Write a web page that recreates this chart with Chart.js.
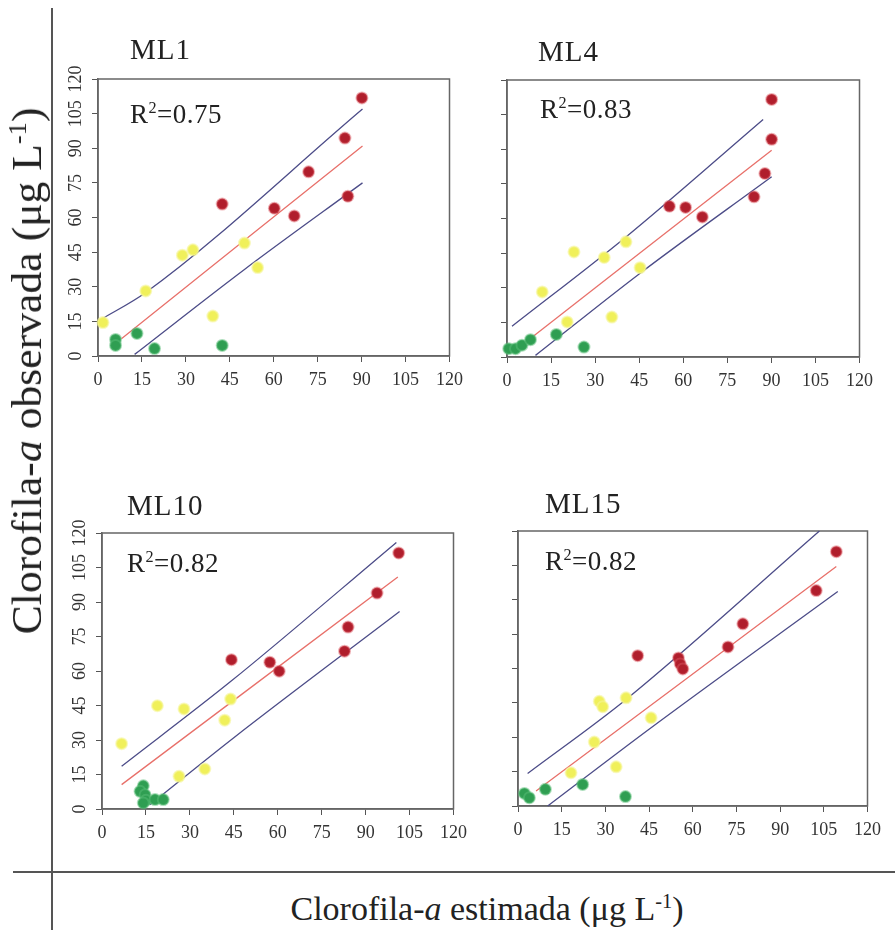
<!DOCTYPE html>
<html lang="es">
<head>
    <meta charset="UTF-8">
    <title>Clorofila-a observada vs estimada</title>
    <script src="https://cdn.jsdelivr.net/npm/chart.js"></script>
    <style>
        body {
            margin: 0;
            width: 895px;
            height: 930px;
            background: #fff;
            position: relative;
            overflow: hidden;
            font-family: "Liberation Serif", "Times New Roman", serif;
            color: #222;
        }
        canvas { position: absolute; }
        .txt {
            position: absolute;
            line-height: 1;
            white-space: nowrap;
        }
        .panel-title { font-size: 29px; letter-spacing: 1px; }
        .r2 { font-size: 27px; letter-spacing: 0.5px; }
        sup {
            font-size: 0.6em;
            vertical-align: baseline;
            position: relative;
            top: -0.6em;
        }
        .frame { position: absolute; background: #555; }
        .y-title {
            font-size: 42px;
            width: 640px;
            text-align: center;
            left: -293px;
            top: 350px;
            transform: rotate(-90deg) scaleX(1.04);
        }
        .x-title {
            font-size: 34px;
            width: 640px;
            text-align: center;
            left: 167px;
            top: 892px;
        }
    </style>
</head>
<body>
    <div class="frame" style="left:51px; top:8px; width:2px; height:922px;"></div>
    <div class="frame" style="left:13px; top:871px; width:882px; height:2px;"></div>

    <canvas id="ml1"></canvas>
    <canvas id="ml4"></canvas>
    <canvas id="ml10"></canvas>
    <canvas id="ml15"></canvas>

    <div class="txt panel-title" style="left:130px; top:35px;">ML1</div>
    <div class="txt panel-title" style="left:538px; top:37px;">ML4</div>
    <div class="txt panel-title" style="left:127px; top:491px;">ML10</div>
    <div class="txt panel-title" style="left:545px; top:489px;">ML15</div>

    <div class="txt r2" style="left:130px; top:101px;">R<sup>2</sup>=0.75</div>
    <div class="txt r2" style="left:540px; top:96px;">R<sup>2</sup>=0.83</div>
    <div class="txt r2" style="left:127px; top:550px;">R<sup>2</sup>=0.82</div>
    <div class="txt r2" style="left:545px; top:548px;">R<sup>2</sup>=0.82</div>

    <div class="txt y-title">Clorofila-<i>a</i> observada (μg L<sup>-1</sup>)</div>
    <div class="txt x-title">Clorofila-<i>a</i> estimada (μg L<sup>-1</sup>)</div>

    <script>
        // axis ticks (same on every panel)
        const tickValues = [0, 15, 30, 45, 60, 75, 90, 105, 120];

        // ML1 - points [estimada, observada]
        const ml1Red = [[90.1, 111.8], [84.3, 94.4], [71.9, 79.8], [85.3, 69.2], [60.2, 64.0], [67.0, 60.7], [42.4, 65.8]];
        const ml1Yellow = [[50.0, 48.9], [54.5, 38.3], [28.8, 43.7], [32.4, 46.0], [16.3, 28.2], [39.2, 17.3], [1.7, 14.5]];
        const ml1Green = [[6.0, 7.2], [6.0, 4.6], [13.3, 9.8], [19.3, 3.2], [42.4, 4.6]];
        const ml1Fit = [[8.0, 7.5], [90.3, 91.0]];
        const ml1Upper = [[1.1, 15.9], [16.3, 27.5], [90.3, 107.0]];
        const ml1Lower = [[12.5, 0.7], [50.0, 37.5], [90.3, 75.0]];

        // ML4
        const ml4Red = [[90.1, 111.6], [90.1, 94.3], [87.8, 79.5], [84.1, 69.4], [55.3, 65.3], [60.8, 64.8], [66.5, 60.7]];
        const ml4Yellow = [[40.5, 49.9], [33.1, 43.1], [22.8, 45.5], [45.3, 38.7], [12.0, 28.2], [20.5, 15.2], [35.7, 17.3]];
        const ml4Green = [[0.6, 3.6], [2.9, 3.6], [5.1, 5.1], [8.0, 7.5], [16.8, 9.8], [26.2, 4.3]];
        const ml4Fit = [[3.5, 3.6], [90.1, 89.6]];
        const ml4Upper = [[1.7, 13.3], [40.5, 52.0], [87.2, 102.9]];
        const ml4Lower = [[9.7, 0.7], [45.0, 36.0], [90.1, 78.1]];

        // ML10
        const ml10Red = [[101.3, 111.3], [93.9, 93.9], [84.0, 79.1], [82.8, 68.6], [44.2, 64.9], [57.3, 63.8], [60.5, 59.9]];
        const ml10Yellow = [[43.9, 47.8], [41.9, 38.6], [18.9, 44.9], [28.0, 43.5], [6.7, 28.4], [35.1, 17.4], [26.3, 14.2]];
        const ml10Green = [[14.1, 10.1], [13.0, 7.7], [14.7, 6.2], [15.0, 3.8], [14.1, 2.6], [18.1, 4.1], [20.9, 4.1]];
        const ml10Fit = [[6.7, 10.6], [101.0, 100.9]];
        const ml10Upper = [[6.7, 18.6], [44.0, 55.5], [100.5, 115.9]];
        const ml10Lower = [[16.4, 1.9], [45.0, 31.0], [101.6, 85.9]];

        // ML15
        const ml15Red = [[109.3, 111.0], [102.4, 94.0], [77.2, 79.5], [72.1, 69.4], [41.1, 65.6], [55.1, 64.6], [55.7, 62.0], [56.6, 59.8]];
        const ml15Yellow = [[37.1, 47.2], [27.9, 45.7], [29.1, 43.3], [45.7, 38.5], [26.2, 27.9], [18.2, 14.5], [33.7, 17.1]];
        const ml15Green = [[2.2, 5.5], [3.9, 3.6], [9.4, 7.3], [22.2, 9.4], [36.9, 4.1]];
        const ml15Fit = [[6.2, 6.5], [109.3, 104.5]];
        const ml15Upper = [[3.3, 14.2], [37.1, 46.5], [103.5, 120.0]];
        const ml15Lower = [[10.2, 0.0], [45.0, 33.5], [109.8, 93.6]];

        const RED = '#b01e2c';
        const YELLOW = '#f0f05a';
        const GREEN = '#2f9e52';
        const BAND = '#4c4c88';
        const FIT = '#e8706a';

        function toXY(arr) {
            return arr.map(p => ({ x: p[0], y: p[1] }));
        }

        function pointSet(arr, color, halo) {
            return {
                data: toXY(arr),
                backgroundColor: color,
                borderColor: halo,
                borderWidth: 2,
                pointRadius: 5.5,
                showLine: false,
                clip: false
            };
        }

        function lineSet(arr, color) {
            return {
                data: toXY(arr),
                borderColor: color,
                borderWidth: 1.3,
                pointRadius: 0,
                showLine: true,
                fill: false,
                cubicInterpolationMode: 'monotone',
                clip: false
            };
        }

        // draws the closed box round the plot area
        const boxPlugin = {
            id: 'box',
            beforeDatasetsDraw(chart) {
                const a = chart.chartArea;
                const ctx = chart.ctx;
                ctx.save();
                ctx.strokeStyle = '#666';
                ctx.lineWidth = 1.5;
                ctx.strokeRect(a.left, a.top, a.right - a.left, a.bottom - a.top);
                ctx.restore();
            }
        };

        // box = [left, top, right, bottom] of the plot area on the page
        function makePanel(id, box, red, yellow, green, fit, upper, lower, showYLabels) {
            const canvas = document.getElementById(id);
            const w = box[2] - box[0] + 80;
            const h = box[3] - box[1] + 65;
            canvas.width = w;
            canvas.height = h;
            canvas.style.left = (box[0] - 60) + 'px';
            canvas.style.top = (box[1] - 20) + 'px';

            const tickFont = { family: "'Liberation Serif', 'Times New Roman', serif", size: 18 };

            return new Chart(canvas.getContext('2d'), {
                type: 'scatter',
                data: {
                    datasets: [
                        pointSet(red, RED, 'rgba(220,90,100,0.45)'),
                        pointSet(yellow, YELLOW, 'rgba(245,245,150,0.6)'),
                        pointSet(green, GREEN, 'rgba(90,190,120,0.5)'),
                        lineSet(fit, FIT),
                        lineSet(upper, BAND),
                        lineSet(lower, BAND)
                    ]
                },
                options: {
                    responsive: false,
                    animation: false,
                    layout: { padding: { left: 0, top: 20, right: 20, bottom: 0 } },
                    plugins: {
                        legend: { display: false },
                        tooltip: { enabled: false }
                    },
                    scales: {
                        x: {
                            type: 'linear',
                            min: 0,
                            max: 120,
                            afterBuildTicks: s => { s.ticks = tickValues.map(v => ({ value: v })); },
                            afterFit: s => { s.height = 45; },
                            grid: { drawOnChartArea: false, drawTicks: true, tickLength: 6, tickColor: '#555' },
                            border: { display: true, color: '#666', width: 1.5 },
                            ticks: { color: '#333', font: tickFont, padding: 7, maxRotation: 0 }
                        },
                        y: {
                            type: 'linear',
                            min: 0,
                            max: 120,
                            afterBuildTicks: s => { s.ticks = tickValues.map(v => ({ value: v })); },
                            afterFit: s => { s.width = 60; },
                            grid: { drawOnChartArea: false, drawTicks: true, tickLength: 6, tickColor: '#555' },
                            border: { display: true, color: '#666', width: 1.5 },
                            ticks: {
                                display: showYLabels,
                                color: '#333',
                                font: tickFont,
                                padding: 2,
                                minRotation: 90,
                                maxRotation: 90,
                                crossAlign: 'center'
                            }
                        }
                    }
                },
                plugins: [boxPlugin]
            });
        }

        makePanel('ml1', [98, 79, 450, 356], ml1Red, ml1Yellow, ml1Green, ml1Fit, ml1Upper, ml1Lower, true);
        makePanel('ml4', [507, 80, 860, 357], ml4Red, ml4Yellow, ml4Green, ml4Fit, ml4Upper, ml4Lower, false);
        makePanel('ml10', [102, 533, 454, 809], ml10Red, ml10Yellow, ml10Green, ml10Fit, ml10Upper, ml10Lower, true);
        makePanel('ml15', [518, 531, 868, 806], ml15Red, ml15Yellow, ml15Green, ml15Fit, ml15Upper, ml15Lower, false);
    </script>
</body>
</html>
